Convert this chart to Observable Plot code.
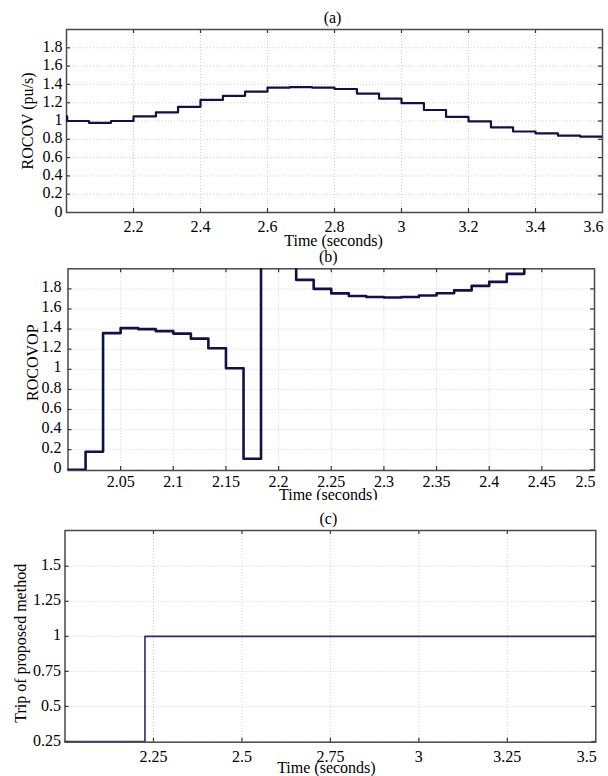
<!DOCTYPE html>
<html><head><meta charset="utf-8">
<script src="https://cdn.jsdelivr.net/npm/d3@7"></script>
<script src="https://cdn.jsdelivr.net/npm/@observablehq/plot@0.6"></script>
<style>
body{margin:0;background:#fff;}
#wrap{position:relative;width:608px;height:776px;background:#fff;overflow:hidden;}
#wrap > svg{position:absolute;left:0;overflow:visible;}
#wrap svg, #wrap svg text{font-family:'Liberation Serif','Times New Roman',serif !important;fill-opacity:1;}
</style></head><body><div id="wrap"></div>
<script>
// ---- Panel (a): ROCOV ----
const timeA = [2.0, 2.002, 2.067, 2.133, 2.2, 2.267, 2.333, 2.4, 2.467, 2.533, 2.6, 2.667, 2.733, 2.8, 2.867, 2.933, 3.0, 3.067, 3.133, 3.2, 3.267, 3.333, 3.4, 3.467, 3.533, 3.6];
const rocovA = [1.05, 1.0, 0.98, 1.0, 1.05, 1.095, 1.155, 1.23, 1.275, 1.32, 1.365, 1.37, 1.365, 1.35, 1.30, 1.245, 1.195, 1.12, 1.045, 0.995, 0.93, 0.885, 0.865, 0.84, 0.83, 0.83];
const xTicksA = [2.2, 2.4, 2.6, 2.8, 3, 3.2, 3.4, 3.6];
const yTicksA = [0, 0.2, 0.4, 0.6, 0.8, 1, 1.2, 1.4, 1.6, 1.8];

// ---- Panel (b): ROCOVOP ----
const timeB = [2.0, 2.0167, 2.0333, 2.05, 2.0667, 2.0833, 2.1, 2.1167, 2.1333, 2.15, 2.1667, 2.1833, 2.2, 2.2167, 2.2333, 2.25, 2.2667, 2.2833, 2.3, 2.3167, 2.3333, 2.35, 2.3667, 2.3833, 2.4, 2.4167, 2.4333, 2.45, 2.4667, 2.4833, 2.5];
const rocovopB = [0, 0.18, 1.36, 1.41, 1.40, 1.38, 1.355, 1.305, 1.21, 1.01, 0.11, 2.6, 2.3, 1.89, 1.80, 1.755, 1.73, 1.72, 1.715, 1.72, 1.735, 1.757, 1.785, 1.83, 1.87, 1.95, 2.1, 2.25, 2.4, 2.55, 2.55];
const xTicksB = [2.05, 2.1, 2.15, 2.2, 2.25, 2.3, 2.35, 2.4, 2.45, 2.5];
const yTicksB = [0, 0.2, 0.4, 0.6, 0.8, 1, 1.2, 1.4, 1.6, 1.8];

// ---- Panel (c): Trip signal ----
const timeC = [2.0, 2.226, 3.5];
const tripC = [0.25, 1, 1];
const xTicksC = [2.25, 2.5, 2.75, 3, 3.25, 3.5];
const yTicksC = [0.25, 0.5, 0.75, 1, 1.25, 1.5];

const FONT = "'Liberation Serif', 'Times New Roman', serif";

function panel(o) {
  const W = 608;
  const fw = W - o.ml - o.mr;
  const fh = o.height - o.mt - o.mb;
  const data = o.t.map((t, i) => ({t, v: o.v[i]}));
  const innerX = o.xTicks.filter(d => d > o.xDomain[0] && d < o.xDomain[1]);
  const innerY = o.yTicks.filter(d => d > o.yDomain[0] && d < o.yDomain[1]);
  const mainX = o.xTicks.slice(0, -1);
  const lastX = o.xTicks.slice(-1);
  const tickLen = 4;
  const svg = Plot.plot({
    width: W, height: o.height,
    marginTop: o.mt, marginBottom: o.mb, marginLeft: o.ml, marginRight: o.mr,
    style: {fontFamily: FONT, fontSize: "16px", color: "#000", background: "#fff"},
    x: {domain: o.xDomain},
    y: {domain: o.yDomain},
    marks: [
      Plot.gridX(innerX, {stroke: "#cfcfcf", strokeOpacity: 1, strokeDasharray: "1,2"}),
      Plot.gridY(innerY, {stroke: "#cfcfcf", strokeOpacity: 1, strokeDasharray: "1,2"}),
      Plot.ruleX(innerX, {x: d => d, insetTop: fh - tickLen, stroke: "#333", strokeWidth: 1.2}),
      Plot.ruleX(innerX, {x: d => d, insetBottom: fh - tickLen, stroke: "#333", strokeWidth: 1.2}),
      Plot.ruleY(innerY, {y: d => d, insetRight: fw - tickLen, stroke: "#333", strokeWidth: 1.2}),
      Plot.ruleY(innerY, {y: d => d, insetLeft: fw - tickLen, stroke: "#333", strokeWidth: 1.2}),
      Plot.frame({stroke: "#4a4a4a", strokeWidth: 1.5}),
      Plot.line(data, {x: "t", y: "v", curve: "step-after", stroke: o.stroke, strokeWidth: o.sw, clip: true}),
      Plot.axisX(mainX, {anchor: "bottom", tickSize: 0, tickPadding: o.xPad, label: null, tickFormat: d => String(d), fontSize: 16, fontFamily: FONT, fill: "#000"}),
      Plot.axisX(lastX, {anchor: "bottom", tickSize: 0, tickPadding: o.xPad, label: null, tickFormat: d => String(d), fontSize: 16, fontFamily: FONT, fill: "#000", textAnchor: "end", dx: 1}),
      Plot.axisY(o.yTicks, {anchor: "left", tickSize: 0, tickPadding: o.yPad, label: null, tickFormat: d => String(d), fontSize: 16, fontFamily: FONT, fill: "#000", dy: o.yDy}),
      Plot.text([o.title], {frameAnchor: "top", lineAnchor: "middle", textAnchor: "middle", text: d => d, dy: -11.5, dx: o.titleDx, fontSize: 16, fontFamily: FONT}),
      Plot.text(["Time (seconds)"], {frameAnchor: "bottom", lineAnchor: "middle", textAnchor: "middle", text: d => d, dy: o.xlabDy, dx: o.xlabDx, fontSize: 16, fontFamily: FONT}),
      Plot.text([o.ylabel], {frameAnchor: "left", lineAnchor: "middle", textAnchor: "middle", text: d => d, dx: -o.ylabOff, dy: o.ylabDy, rotate: -90, fontSize: 16, fontFamily: FONT})
    ]
  });
  svg.style.top = o.top + "px";
  return svg;
}

const wrap = document.getElementById("wrap");
wrap.appendChild(panel({
  top: 0, height: 250, mt: 29, mb: 38, ml: 66, mr: 6,
  xDomain: [2.0, 3.6], yDomain: [0, 2],
  xTicks: xTicksA, yTicks: yTicksA, t: timeA, v: rocovA,
  stroke: "#10104a", sw: 2.2, title: "(a)", ylabel: "ROCOV (pu/s)",
  xPad: 8, yPad: 4, yDy: -1, titleDx: -2, xlabDy: 28.5, xlabDx: -1, ylabOff: 39, ylabDy: 0
}));
wrap.appendChild(panel({
  top: 250, height: 250, mt: 18.3, mb: 30, ml: 67.5, mr: 14,
  xDomain: [2.0, 2.5], yDomain: [-0.007, 2],
  xTicks: xTicksB, yTicks: yTicksB, t: timeB, v: rocovopB,
  stroke: "#10104a", sw: 2.6, title: "(b)", ylabel: "ROCOVOP",
  xPad: 5, yPad: 6.5, yDy: -2, titleDx: -3, xlabDy: 24.5, xlabDx: -3, ylabOff: 35, ylabDy: -7
}));
wrap.appendChild(panel({
  top: 500, height: 276, mt: 30, mb: 34.3, ml: 64.5, mr: 12.7,
  xDomain: [2.0, 3.5], yDomain: [0.245, 1.755],
  xTicks: xTicksC, yTicks: yTicksC, t: timeC, v: tripC,
  stroke: "#2a2a6a", sw: 1.6, title: "(c)", ylabel: "Trip of proposed method",
  xPad: 8.5, yPad: 4, yDy: -1, titleDx: -2, xlabDy: 25.5, xlabDx: -4, ylabOff: 44, ylabDy: 7
}));
</script>
</body></html>
